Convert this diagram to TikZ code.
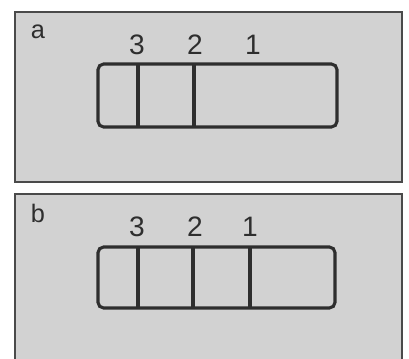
\documentclass[tikz,border=0pt]{standalone}
\usepackage{fontspec}
\setmainfont{Liberation Sans}
\definecolor{panelgray}{HTML}{D2D2D2}
\definecolor{edgegray}{HTML}{4A4A4A}
\definecolor{inkgray}{HTML}{2E2E2E}
\begin{document}
\begin{tikzpicture}[x=0.025cm, y=-0.025cm,
    panel/.style={fill=panelgray, draw=edgegray, line width=1.4pt},
    cellbox/.style={draw=inkgray, line width=2.2pt, rounded corners=4pt},
    divider/.style={draw=inkgray, line width=2.2pt},
    num/.style={font=\fontsize{20}{24}\selectfont, text=inkgray, inner sep=0pt},
    tag/.style={font=\fontsize{18}{21}\selectfont, text=inkgray, inner sep=0pt}]
  \useasboundingbox (0,0) rectangle (409,359);
  % panel a
  \draw[panel] (15,12) rectangle (402,182);
  \node[tag] (taga) at (38,32) {a};
  \draw[cellbox] (98,64) rectangle (337,127);
  \draw[divider] (138,64) -- (138,127);
  \draw[divider] (194,64) -- (194,127);
  \node[num] (a3) at (137,45) {3};
  \node[num] (a2) at (195,45) {2};
  \node[num] (a1) at (253,45) {1};
  % panel b
  \fill[panelgray] (15,194) rectangle (402,359);
  \draw[edgegray, line width=1.4pt] (15,359) -- (15,194) -- (402,194) -- (402,359);
  \node[tag] (tagb) at (38,213) {b};
  \draw[cellbox] (98,247) rectangle (335,308);
  \draw[divider] (138,247) -- (138,308);
  \draw[divider] (193,247) -- (193,308);
  \draw[divider] (250,247) -- (250,308);
  \node[num] (b3) at (137,227) {3};
  \node[num] (b2) at (195,227) {2};
  \node[num] (b1) at (250,227) {1};
\end{tikzpicture}
\end{document}
